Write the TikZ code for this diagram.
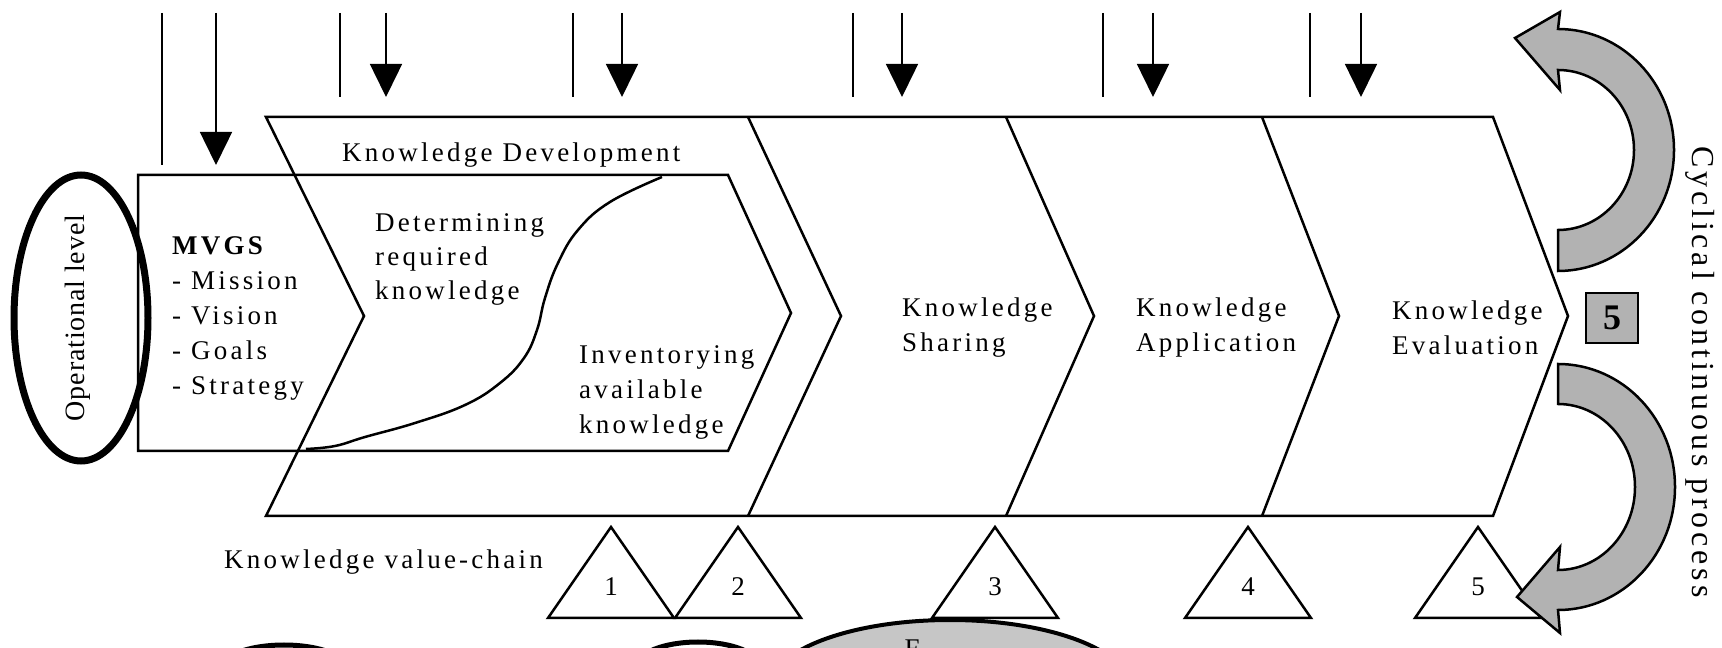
\documentclass[tikz,border=0pt]{standalone}
\usepackage{fontspec}
\setmainfont{Liberation Serif}
\usetikzlibrary{positioning, arrows.meta}

\begin{document}
\begin{tikzpicture}[x=1pt, y=1pt,
    outline/.style={line width=2.5pt, line join=miter},
    lbl/.style={inner sep=0pt, align=left, font=\fontsize{27}{35}\selectfont\addfontfeature{LetterSpace=12}},
    grayarrow/.style={fill=gray!60, draw=black, line width=2.5pt, line join=miter}]
    \fill[white] (0,0) rectangle (1722,648);
    \clip (0,0) rectangle (1722,648);

    % Draw input lines and arrows
    \foreach \i/\lx/\ax/\yb in {1/162/216/483, 2/340/386/551, 3/573/622/551, 4/853/902/551, 5/1103/1153/551, 6/1310/1361/551} {
      \coordinate (ltop\i) at (\lx,635);
      \coordinate (lbot\i) at (\lx,\yb);
      \coordinate (atop\i) at (\ax,635);
      \coordinate (abot\i) at (\ax,\yb);
      \draw[line width=2pt] (ltop\i) -- (lbot\i);
      \draw[line width=1.5pt, -{Triangle[width=32pt,length=33pt]}] (atop\i) -- (abot\i);
    }

    % Draw value chain outline
    \coordinate (c0t) at (266,531); \coordinate (c0m) at (364,332); \coordinate (c0b) at (266,132);
    \coordinate (c4t) at (1493,531); \coordinate (c4m) at (1568,332); \coordinate (c4b) at (1493,132);
    \draw[outline] (c0t) -- (c4t) -- (c4m) -- (c4b) -- (c0b) -- (c0m) -- cycle;
    \foreach \tx/\mx in {748/841, 1006/1094, 1262/1339} {
      \draw[outline] (\tx,531) -- (\mx,332) -- (\tx,132);
    }

    % Draw MVGS and development box
    \draw[outline] (138,473) -- (728,473) -- (791,335) -- (728,197) -- (138,197) -- cycle;
    \draw[outline] plot[smooth, tension=0.7] coordinates {(662,471) (610,446) (578,418) (558,385) (545,350) (537,318) (524,290) (500,265) (465,243) (415,225) (365,211) (335,202) (306,199)};

    % Operational level
    \draw[line width=7pt] (81,330) ellipse [x radius=67, y radius=143];
    \node[lbl, rotate=90, font=\fontsize{28}{28}\selectfont\addfontfeature{LetterSpace=3}] (oplevel) at (78,330) {Operational level};

    % Labels
    \node[lbl, anchor=west] (kdev) at (342,493) {Knowledge Development};
    \node[lbl, anchor=west, font=\fontsize{27}{34}\selectfont\addfontfeature{LetterSpace=12}] (determ) at (375,389) {Determining\\required\\knowledge};
    \node[lbl, anchor=west] (mvgs) at (172,330) {\textbf{MVGS}\\- Mission\\- Vision\\- Goals\\- Strategy};
    \node[lbl, anchor=west] (invent) at (579,256) {Inventorying\\available\\knowledge};
    \node[lbl, anchor=west] (share) at (902,320) {Knowledge\\Sharing};
    \node[lbl, anchor=west] (apply) at (1136,320) {Knowledge\\Application};
    \node[lbl, anchor=west] (evalu) at (1392,320) {Knowledge\\Evaluation};
    \node[lbl, anchor=west] (kvc) at (224,86) {Knowledge value-chain};

    % Triangles with numbers
    \foreach \n/\tx in {1/611, 2/738, 3/995, 4/1248, 5/1478} {
      \draw[outline] (\tx-63,30) -- (\tx,121) -- (\tx+63,30) -- cycle;
      \node[lbl] (tri\n) at (\tx,61) {\n};
    }

    % Shapes cut at the bottom
    \draw[line width=5pt] (284,-22) ellipse [x radius=65, y radius=25];
    \draw[line width=5pt] (698,-19) ellipse [x radius=62, y radius=25];
    \filldraw[fill=gray!45, line width=4pt] (950,-40) ellipse [x radius=180, y radius=68];
    \node[lbl, anchor=north] (fnode) at (912,8) {F};

    % Cyclical arrows
    \filldraw[grayarrow] (1558,377) arc[start angle=-90, end angle=90, x radius=116, y radius=121]
      -- (1560,636) -- (1515,610) -- (1560,558) -- (1558,578)
      arc[start angle=90, end angle=-90, x radius=76, y radius=80] -- cycle;
    \filldraw[grayarrow] (1558,284) arc[start angle=90, end angle=-90, x radius=117, y radius=123]
      -- (1560,15) -- (1517,51) -- (1560,101) -- (1558,78)
      arc[start angle=-90, end angle=90, x radius=77, y radius=83] -- cycle;
    \node[draw, line width=2pt, fill=gray!60, minimum width=52pt, minimum height=50pt, inner sep=0pt,
      font=\bfseries\fontsize{36}{36}\selectfont] (five) at (1612,330) {5};
    \node[rotate=-90, inner sep=0pt, font=\fontsize{32}{32}\selectfont\addfontfeature{LetterSpace=12}] (cyclic) at (1700,276) {Cyclical continuous process};
\end{tikzpicture}
\end{document}
